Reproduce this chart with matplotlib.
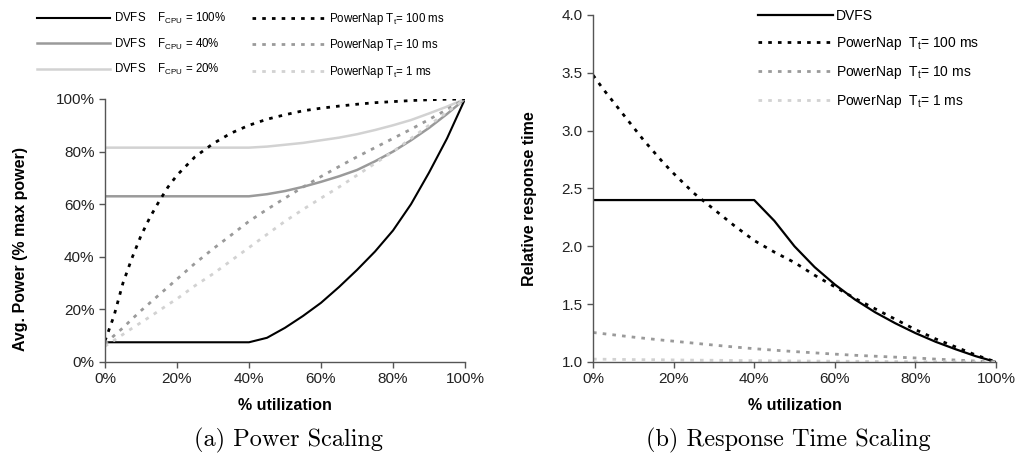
import matplotlib
matplotlib.use("Agg")
import matplotlib.pyplot as plt
from matplotlib.ticker import FuncFormatter

# utilization (%) sample points
util = [0, 2.5, 5, 7.5, 10, 12.5, 15, 17.5, 20, 25, 30, 35, 40,
        45, 50, 55, 60, 65, 70, 75, 80, 85, 90, 95, 100]

# (a) power, % of max power
dvfs_100 = [7.5] * 13 + [9.2, 13, 17.5, 22.5, 28.5, 35, 42, 50, 60, 72, 85, 100]
dvfs_40 = [63] * 13 + [63.8, 65, 66.6, 68.5, 70.6, 73, 76.3, 80, 84.3, 89, 94.3, 100]
dvfs_20 = [81.5] * 13 + [81.9, 82.6, 83.3, 84.3, 85.3, 86.6, 88.2, 90, 92, 94.5, 97.1, 100]
pnap_100 = [8, 17.5, 30, 39.5, 48, 55, 61, 66.5, 71, 78, 83, 87, 90,
            92.3, 94, 95.5, 96.5, 97.3, 98, 98.6, 99, 99.4, 99.7, 99.9, 100]
pnap_10 = [7, 10, 13, 16.3, 19.5, 22.5, 25.5, 28.5, 31.5, 37.5, 43, 48.2, 53.5,
           58, 62.3, 66.5, 70.5, 74.3, 78, 81.5, 85, 88.5, 92.2, 96, 100]
pnap_1 = [6, 8.2, 10.5, 12.8, 15, 17.2, 19.5, 21.8, 24, 29, 33.5, 38.5, 43.5,
          48.5, 53.5, 58, 62.3, 66.5, 71, 75.5, 80, 85, 90, 95, 100]

# (b) relative response time
rt_dvfs = [2.4] * 13 + [2.22, 2.0, 1.82, 1.67, 1.54, 1.43, 1.335, 1.25, 1.175, 1.11, 1.05, 1.0]
rt_pnap_100 = [3.48, 3.36, 3.25, 3.14, 3.03, 2.92, 2.82, 2.72, 2.63, 2.46, 2.32, 2.18, 2.05,
               1.95, 1.86, 1.75, 1.65, 1.55, 1.46, 1.37, 1.28, 1.2, 1.13, 1.06, 1.0]
rt_pnap_10 = [1.255, 1.245, 1.235, 1.225, 1.215, 1.206, 1.197, 1.188, 1.18, 1.163, 1.146, 1.13, 1.115,
              1.102, 1.09, 1.079, 1.068, 1.058, 1.05, 1.042, 1.035, 1.025, 1.017, 1.008, 1.0]
rt_pnap_1 = [1.025, 1.024, 1.023, 1.022, 1.021, 1.02, 1.02, 1.019, 1.018, 1.016, 1.015, 1.013, 1.012,
             1.01, 1.009, 1.008, 1.007, 1.006, 1.005, 1.004, 1.003, 1.002, 1.001, 1.0, 1.0]

BLACK = "#000000"
MID = "#9a9a9a"
LIGHT = "#d2d2d2"
SPINE = "#555555"
DOTS = (0, (1.3, 2.2))

plt.rcParams['font.family'] = ['Liberation Sans', 'DejaVu Sans']
plt.rcParams['mathtext.fontset'] = 'custom'
plt.rcParams['mathtext.rm'] = 'Liberation Sans'
plt.rcParams['mathtext.it'] = 'Liberation Sans'


def style_axes(ax):
    for s in ['top', 'right']:
        ax.spines[s].set_visible(False)
    for s in ['left', 'bottom']:
        ax.spines[s].set_color(SPINE)
        ax.spines[s].set_linewidth(1.0)
    ax.tick_params(direction='out', length=4, width=1, color=SPINE, labelsize=11, labelcolor='#222222')
    ax.set_xlim(0, 100)
    ax.set_xticks(range(0, 101, 20))
    ax.xaxis.set_major_formatter(FuncFormatter(lambda v, p: "%d%%" % v))
    ax.set_xlabel('% utilization', fontsize=11.5, fontweight='bold', labelpad=8)


fig = plt.figure(figsize=(10.16, 4.68), dpi=100)
ax1 = fig.add_axes([0.1033, 0.2265, 0.3544, 0.562])
ax2 = fig.add_axes([0.5837, 0.2265, 0.3966, 0.7415])

# (a) power scaling
l1, = ax1.plot(util, dvfs_100, color=BLACK, lw=1.5, label=r"DVFS    $\mathregular{F_{CPU}}$ = 100%")
l2, = ax1.plot(util, dvfs_40, color=MID, lw=1.8, label=r"DVFS    $\mathregular{F_{CPU}}$ = 40%")
l3, = ax1.plot(util, dvfs_20, color=LIGHT, lw=1.8, label=r"DVFS    $\mathregular{F_{CPU}}$ = 20%")
l4, = ax1.plot(util, pnap_100, color=BLACK, lw=2, ls=DOTS, label=r"PowerNap $\mathregular{T_t}$= 100 ms")
l5, = ax1.plot(util, pnap_10, color=MID, lw=2, ls=DOTS, label=r"PowerNap $\mathregular{T_t}$= 10 ms")
l6, = ax1.plot(util, pnap_1, color=LIGHT, lw=2, ls=DOTS, label=r"PowerNap $\mathregular{T_t}$= 1 ms")
style_axes(ax1)
ax1.set_ylim(0, 100)
ax1.set_yticks(range(0, 101, 20))
ax1.yaxis.set_major_formatter(FuncFormatter(lambda v, p: "%d%%" % v))
ax1.set_ylabel('Avg. Power (% max power)', fontsize=11.5, fontweight='bold', labelpad=8)
ax1.yaxis.set_label_coords(-0.215, 0.43)

fig.legend(handles=[l1, l2, l3, l4, l5, l6], ncol=2, loc='upper left',
           bbox_to_anchor=(37 / 1016, 1 - 11 / 468), frameon=False, fontsize=8.3,
           handlelength=6.3, handletextpad=0.35, columnspacing=2.3,
           labelspacing=0.9, borderpad=0, borderaxespad=0)

# (b) response time scaling
m1, = ax2.plot(util, rt_dvfs, color=BLACK, lw=1.6, label="DVFS")
m2, = ax2.plot(util, rt_pnap_100, color=BLACK, lw=2, ls=DOTS, label=r"PowerNap  $\mathregular{T_t}$= 100 ms")
m3, = ax2.plot(util, rt_pnap_10, color=MID, lw=2, ls=DOTS, label=r"PowerNap  $\mathregular{T_t}$= 10 ms")
m4, = ax2.plot(util, rt_pnap_1, color=LIGHT, lw=2, ls=DOTS, label=r"PowerNap  $\mathregular{T_t}$= 1 ms")
style_axes(ax2)
ax2.set_ylim(1.0, 4.0)
ax2.set_yticks([1.0, 1.5, 2.0, 2.5, 3.0, 3.5, 4.0])
ax2.yaxis.set_major_formatter(FuncFormatter(lambda v, p: "%.1f" % v))
ax2.set_ylabel('Relative response time', fontsize=11.5, fontweight='bold', labelpad=8)
ax2.yaxis.set_label_coords(-0.14, 0.47)

fig.legend(handles=[m1, m2, m3, m4], loc='upper left',
           bbox_to_anchor=(758 / 1016, 1 - 9 / 468), frameon=False, fontsize=10,
           handlelength=5.4, handletextpad=0.2, labelspacing=0.87,
           borderpad=0, borderaxespad=0)

fig.text(288 / 1016, 1 - 440 / 468, "(a) Power Scaling", family='cmr10', fontsize=17.5, ha='center', va='center')
fig.text(788 / 1016, 1 - 440 / 468, "(b) Response Time Scaling", family='cmr10', fontsize=17.5, ha='center', va='center')

fig.savefig("out.png", dpi=100)
